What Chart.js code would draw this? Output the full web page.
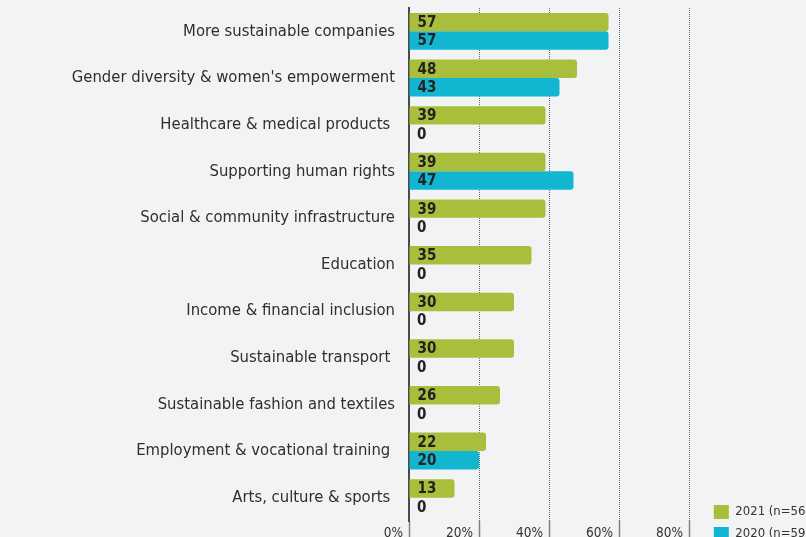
<!doctype html>
<html>

<head>
    <title>Themes</title>
    <meta charset="utf-8" />
    <script src="https://cdn.jsdelivr.net/npm/chart.js@4.4.0/dist/chart.umd.min.js"></script>
    <style>
        html, body { margin: 0; padding: 0; background: #f2f3f5; overflow: hidden; }
        #kast { width: 820px; height: 560px; }
    </style>
</head>

<body>
    <div id="kast"><canvas id="joonis"></canvas></div>
    <script>
        // themes and shares (%) per survey year
        const teemad = [
            'More sustainable companies',
            "Gender diversity & women's empowerment",
            'Healthcare & medical products ',
            'Supporting human rights',
            'Social & community infrastructure',
            'Education',
            'Income & financial inclusion',
            'Sustainable transport ',
            'Sustainable fashion and textiles',
            'Employment & vocational training ',
            'Arts, culture & sports '
        ];
        const aasta2021 = [57, 48, 39, 39, 39, 35, 30, 30, 26, 22, 13];
        const aasta2020 = [57, 43, 0, 47, 0, 0, 0, 0, 0, 20, 0];
        const seeriad = ['2021 (n=56)', '2020 (n=59)'];
        const xSammud = [0, 20, 40, 60, 80];

        const kiri = '"DejaVu Sans Condensed", "Liberation Sans", sans-serif';
        Chart.defaults.font.family = kiri;

        // number written at the start of every bar
        const ribaNumbrid = {
            id: 'ribaNumbrid',
            afterDatasetsDraw(chart) {
                const ctx = chart.ctx;
                ctx.save();
                ctx.font = 'bold 15px ' + kiri;
                ctx.fillStyle = '#222';
                ctx.textBaseline = 'middle';
                ctx.textAlign = 'left';
                chart.data.datasets.forEach((ds, i) => {
                    chart.getDatasetMeta(i).data.forEach((riba, j) => {
                        ctx.fillText(ds.data[j], riba.base + 8, riba.y + 1);
                    });
                });
                ctx.restore();
            }
        };

        new Chart(document.getElementById('joonis'), {
            type: 'bar',
            data: {
                labels: teemad,
                datasets: [
                    { label: seeriad[0], data: aasta2021, backgroundColor: '#a9bf3b', borderWidth: 0 },
                    { label: seeriad[1], data: aasta2020, backgroundColor: '#12b6d1', borderWidth: 0 }
                ]
            },
            options: {
                indexAxis: 'y',
                responsive: true,
                maintainAspectRatio: false,
                animation: false,
                layout: { padding: { top: 8, bottom: 11, left: 0, right: 0 } },
                datasets: {
                    bar: {
                        categoryPercentage: 0.79,
                        barPercentage: 1,
                        borderRadius: { topRight: 3, bottomRight: 3 },
                        borderSkipped: 'start'
                    }
                },
                scales: {
                    x: {
                        min: 0,
                        max: 84.8,
                        afterBuildTicks: s => { s.ticks = xSammud.map(v => ({ value: v })); },
                        afterFit: s => { s.height = 28; },
                        ticks: {
                            align: 'end',
                            padding: -26,
                            color: '#333',
                            font: { size: 13.5 },
                            callback: v => v + '%\u2002'
                        },
                        grid: { color: '#666', tickColor: '#808080', tickLength: 30, tickWidth: 1.5, tickBorderDash: [] },
                        border: { display: false, dash: [1, 1] }
                    },
                    y: {
                        afterFit: s => { s.width = 409; s.paddingTop = 0; s.paddingBottom = 0; },
                        grid: { display: false, drawTicks: false },
                        border: { display: true, color: '#4a4a4a', width: 2 },
                        ticks: { padding: 14, color: '#2e2e2e', font: { size: 16.5 } }
                    }
                },
                plugins: {
                    legend: {
                        position: 'right',
                        align: 'end',
                        labels: { boxWidth: 15, boxHeight: 14, padding: 8, color: '#333', font: { size: 13 } }
                    },
                    tooltip: { enabled: false }
                }
            },
            plugins: [ribaNumbrid]
        });
    </script>
</body>

</html>
